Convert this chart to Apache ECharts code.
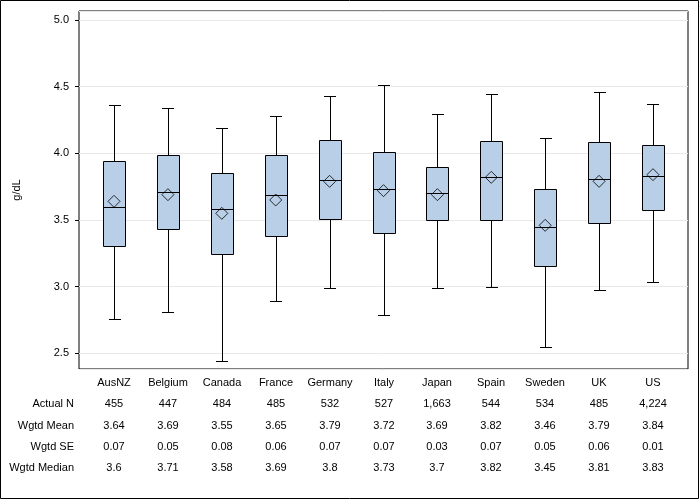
<!DOCTYPE html>
<html>
<head>
<meta charset="utf-8">
<script src="https://cdn.jsdelivr.net/npm/echarts@6/dist/echarts.min.js"></script>
<style>html,body{margin:0;padding:0;background:#fff}#c{width:700px;height:500px}</style>
</head>
<body>
<div id="c"></div>
<script>
const categories = ['AusNZ','Belgium','Canada','France','Germany','Italy','Japan','Spain','Sweden','UK','US'];
const whiskerLow  = [2.755, 2.807, 2.44, 2.892, 2.988, 2.785, 2.988, 3.0, 2.545, 2.973, 3.033];
const q1          = [3.303, 3.43, 3.243, 3.38, 3.505, 3.40, 3.498, 3.498, 3.153, 3.475, 3.573];
const median      = [3.60, 3.71, 3.58, 3.69, 3.80, 3.73, 3.70, 3.82, 3.45, 3.81, 3.83];
const q3          = [3.94, 3.985, 3.85, 3.985, 4.098, 4.008, 3.90, 4.095, 3.73, 4.088, 4.06];
const whiskerHigh = [4.36, 4.338, 4.19, 4.278, 4.428, 4.515, 4.293, 4.448, 4.113, 4.458, 4.373];
const means       = [3.64, 3.69, 3.55, 3.65, 3.79, 3.72, 3.69, 3.82, 3.46, 3.79, 3.84];
const rowLabels   = ['', 'Actual N', 'Wgtd Mean', 'Wgtd SE', 'Wgtd Median'];
const actualN     = ['455','447','484','485','532','527','1,663','544','534','485','4,224'];
const wgtdMean    = ['3.64','3.69','3.55','3.65','3.79','3.72','3.69','3.82','3.46','3.79','3.84'];
const wgtdSE      = ['0.07','0.05','0.08','0.06','0.07','0.07','0.03','0.07','0.05','0.06','0.01'];
const wgtdMedian  = ['3.6','3.71','3.58','3.69','3.8','3.73','3.7','3.82','3.45','3.81','3.83'];
const yMin = 2.3825, yMax = 5.0675;
const xMin = -0.65, xMax = categories.length - 1 + 0.65;

const FONT = '"Liberation Sans", Arial, sans-serif';
const boxData = categories.map((c, i) => [i, whiskerLow[i], q1[i], median[i], q3[i], whiskerHigh[i]]);
const meanData = means.map((m, i) => [i, m]);
const tableRows = [categories, actualN, wgtdMean, wgtdSE, wgtdMedian];
const tableData = [];
const tableText = [];
tableRows.forEach((row, r) => row.forEach((t, i) => { tableData.push([i, r]); tableText.push(t); }));

const px = v => Math.round(v) + 0.5;

function renderBox(params, api) {
  const x = api.value(0);
  const lo = api.coord([x, api.value(1)]);
  const b1 = api.coord([x, api.value(2)]);
  const md = api.coord([x, api.value(3)]);
  const b3 = api.coord([x, api.value(4)]);
  const hi = api.coord([x, api.value(5)]);
  const unit = api.size([1, 0])[0];
  const bw = Math.round(unit * 0.41);
  const cw = Math.round(unit * 0.205);
  const cx = px(lo[0]);
  const bx = Math.round(lo[0] - bw / 2) + 0.5;
  const lineStyle = { stroke: '#000', lineWidth: 1, fill: null };
  return {
    type: 'group',
    children: [
      { type: 'line', shape: { x1: cx, y1: px(b3[1]), x2: cx, y2: px(hi[1]) }, style: lineStyle },
      { type: 'line', shape: { x1: cx, y1: px(b1[1]), x2: cx, y2: px(lo[1]) }, style: lineStyle },
      { type: 'line', shape: { x1: Math.round(lo[0] - cw / 2), y1: px(hi[1]), x2: Math.round(lo[0] - cw / 2) + cw + 1, y2: px(hi[1]) }, style: lineStyle },
      { type: 'line', shape: { x1: Math.round(lo[0] - cw / 2), y1: px(lo[1]), x2: Math.round(lo[0] - cw / 2) + cw + 1, y2: px(lo[1]) }, style: lineStyle },
      { type: 'rect', shape: { x: bx, y: px(b3[1]), width: bw, height: Math.round(b1[1]) - Math.round(b3[1]) },
        style: { fill: '#b9cfe7', stroke: '#000', lineWidth: 1 } },
      { type: 'line', shape: { x1: bx, y1: px(md[1]), x2: bx + bw, y2: px(md[1]) }, style: lineStyle }
    ]
  };
}

function renderText(params, api) {
  const p = api.coord([api.value(0), api.value(1)]);
  return {
    type: 'text',
    x: Math.round(p[0]),
    y: Math.round(p[1]),
    style: {
      text: tableText[params.dataIndex],
      textAlign: 'center',
      textVerticalAlign: 'middle',
      fill: '#000',
      font: '11px ' + FONT
    }
  };
}

const chart = echarts.init(document.getElementById('c'), null, { renderer: 'canvas' });
chart.setOption({
  animation: false,
  backgroundColor: '#fff',
  textStyle: { fontFamily: FONT },
  graphic: [{
    type: 'rect', shape: { x: 0.5, y: 0.5, width: 698, height: 498 },
    style: { fill: null, stroke: '#000', lineWidth: 1 }, z: 100
  }],
  grid: [
    { left: 79, top: 11, width: 609, height: 358, show: true, borderColor: '#000', borderWidth: 1, backgroundColor: '#fff' },
    { left: 79, top: 372, width: 609, height: 107, show: false }
  ],
  xAxis: [
    { gridIndex: 0, type: 'value', min: xMin, max: xMax, show: false, splitLine: { show: false } },
    { gridIndex: 1, type: 'value', min: xMin, max: xMax, show: false, splitLine: { show: false } }
  ],
  yAxis: [
    {
      gridIndex: 0, type: 'value', min: yMin, max: yMax, position: 'left',
      name: 'g/dL', nameLocation: 'middle', nameGap: 57, nameRotate: 90,
      nameTextStyle: { color: '#000', fontSize: 11, fontFamily: FONT },
      axisLine: { show: false, onZero: false },
      axisTick: { show: true, inside: false, length: 4, lineStyle: { color: '#000' } },
      axisLabel: { color: '#000', fontSize: 11, margin: 10, showMinLabel: false, showMaxLabel: false,
        formatter: v => v.toFixed(1), fontFamily: FONT },
      splitLine: { show: true, lineStyle: { color: '#e8e8e8', width: 1 } }
    },
    {
      gridIndex: 1, type: 'category', data: rowLabels, inverse: true,
      axisLine: { show: false, onZero: false }, axisTick: { show: false },
      axisLabel: { color: '#000', fontSize: 11, margin: 5, fontFamily: FONT },
      splitLine: { show: false }
    }
  ],
  series: [
    { type: 'custom', xAxisIndex: 0, yAxisIndex: 0, renderItem: renderBox, data: boxData,
      encode: { x: 0, y: [1, 2, 3, 4, 5] }, z: 2 },
    { type: 'scatter', xAxisIndex: 0, yAxisIndex: 0, data: meanData, symbol: 'diamond', symbolSize: [12, 12],
      itemStyle: { color: 'rgba(0,0,0,0)', borderColor: '#000', borderWidth: 1 }, z: 3 },
    { type: 'custom', xAxisIndex: 1, yAxisIndex: 1, renderItem: renderText, data: tableData,
      encode: { x: 0, y: 1 }, clip: false }
  ]
});
</script>
</body>
</html>
